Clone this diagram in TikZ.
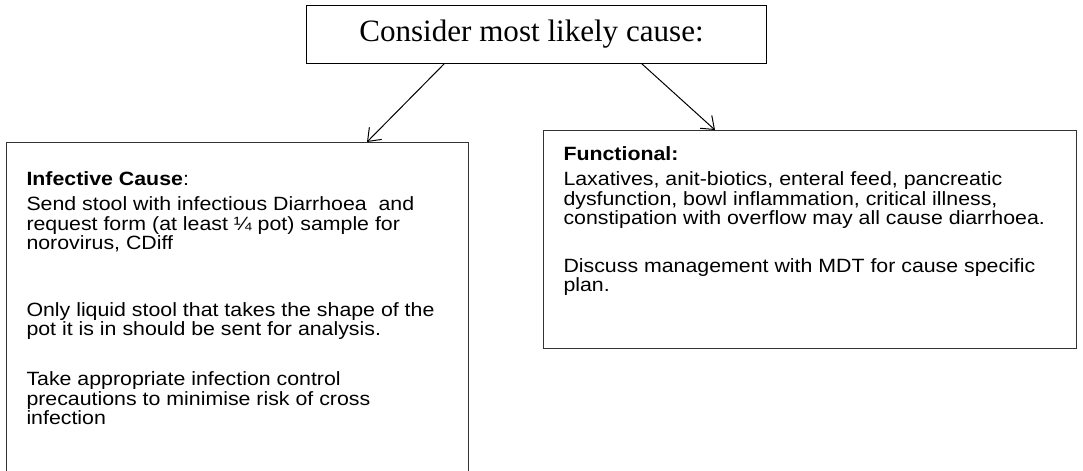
\documentclass[tikz,border=0pt]{standalone}
\usepackage{graphicx}
\usepackage{fontspec}
\setmainfont{Liberation Sans}
\newfontfamily\titlefont{Liberation Serif}
\usetikzlibrary{arrows.meta, calc, positioning}

% body text of the reference is a little squeezed in height
\newcommand\squash[1]{\scalebox{1}[0.9]{#1}}
\newcommand\tightlines{\raggedright\lineskiplimit=-50pt\relax\hfuzz=30pt\relax}

\tikzset{
    causebox/.style={draw=black!80, line width=0.75pt, inner xsep=15pt, inner ysep=0pt,
        anchor=north west, font=\fontsize{16pt}{16.1pt}\selectfont},
    titlebox/.style={draw, line width=0.75pt, minimum width=345pt, minimum height=43.5pt,
        inner sep=0pt, font=\titlefont\fontsize{23.3pt}{27pt}\selectfont},
    pointer/.style={-{Straight Barb[length=8.5pt, width=13pt]}, line width=0.75pt}
}

\begin{document}
\begin{tikzpicture}[x=0.75pt, y=-0.75pt]
    \useasboundingbox (0,0) rectangle (1083,471);

    \node[titlebox] (title) at (536,34) {Consider most likely cause:\kern6.75pt};

    % the two possible causes
    \node[causebox] (infective) at (6,142) {\squash{\parbox[c][281.7pt][t]{316.5pt}{\tightlines
        \rule{0pt}{35.8pt}\textbf{Infective Cause}:\\[5pt]
        Send stool with infectious Diarrhoea\ \ and\\
        request form (at least ¼ pot) sample for\\
        norovirus, CDiff\\[39.8pt]
        Only liquid stool that takes the shape of the\\
        pot it is in should be sent for analysis.\\[25.6pt]
        Take appropriate infection control\\
        precautions to minimise risk of cross\\
        infection}}};
    \node[causebox] (functional) at (543,130) {\squash{\parbox[c][181.7pt][t]{369.75pt}{\tightlines
        \rule{0pt}{25pt}\textbf{Functional:}\\[5pt]
        Laxatives, anit-biotics, enteral feed, pancreatic\\
        dysfunction, bowl inflammation, critical illness,\\
        constipation with overflow may all cause diarrhoea.\\[23.9pt]
        Discuss management with MDT for cause specific\\
        plan.}}};

    \draw[pointer] ($(title.south west)+(139,0)$) -- ($(infective.north west)+(361,0)$);
    \draw[pointer] ($(title.south west)+(336,0)$) -- ($(functional.north west)+(172,0)$);
\end{tikzpicture}
\end{document}
